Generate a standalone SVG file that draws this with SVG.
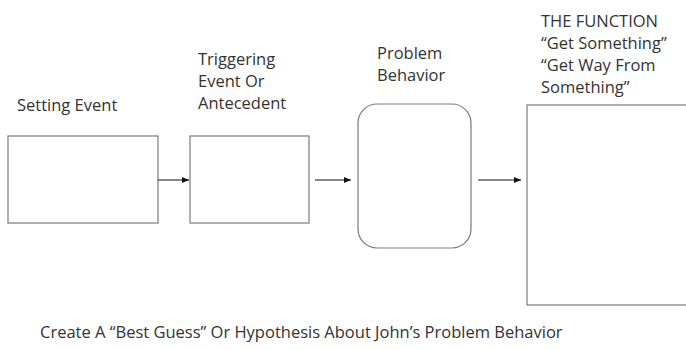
<svg xmlns="http://www.w3.org/2000/svg" width="686" height="350" viewBox="0 0 686 350">
  <style>
    .lbl { font-family: "Open Sans", "Liberation Sans", sans-serif; font-size: 16.5px; fill: #333333; }
    .box { fill: #ffffff; stroke: #7a7a7a; stroke-width: 1.2; }
    .link { stroke: #111111; stroke-width: 1; fill: none; marker-end: url(#arrow); }
  </style>
  <defs>
    <marker id="arrow" viewBox="0 0 8 8" refX="7" refY="4" markerWidth="8" markerHeight="8" markerUnits="userSpaceOnUse" orient="auto">
      <path d="M0,1 L7,4 L0,7 Z" fill="#111111"/>
    </marker>
  </defs>
  <rect width="686" height="350" fill="#ffffff"/>

  <g id="setting-event">
    <text class="lbl" x="17" y="111">Setting Event</text>
    <rect class="box" x="8" y="136" width="150" height="87"/>
  </g>

  <g id="trigger">
    <text class="lbl" x="198" y="65">Triggering</text>
    <text class="lbl" x="198" y="87">Event Or</text>
    <text class="lbl" x="198" y="109">Antecedent</text>
    <rect class="box" x="190" y="136" width="119" height="87"/>
  </g>

  <g id="problem-behavior">
    <text class="lbl" x="377" y="59">Problem</text>
    <text class="lbl" x="377" y="81">Behavior</text>
    <rect class="box" x="358" y="104" width="113" height="144" rx="19" ry="19"/>
  </g>

  <g id="function">
    <text class="lbl" x="541" y="27">THE FUNCTION</text>
    <text class="lbl" x="541" y="49">“Get Something”</text>
    <text class="lbl" x="541" y="71">“Get Way From</text>
    <text class="lbl" x="541" y="93">Something”</text>
    <rect class="box" x="527" y="105" width="170" height="200"/>
  </g>

  <g id="connectors">
    <line class="link" x1="158" y1="180" x2="189" y2="180"/>
    <line class="link" x1="315" y1="180" x2="351" y2="180"/>
    <line class="link" x1="478" y1="180" x2="521" y2="180"/>
  </g>

  <text class="lbl" x="40" y="338">Create A “Best Guess” Or Hypothesis About John’s Problem Behavior</text>
</svg>
